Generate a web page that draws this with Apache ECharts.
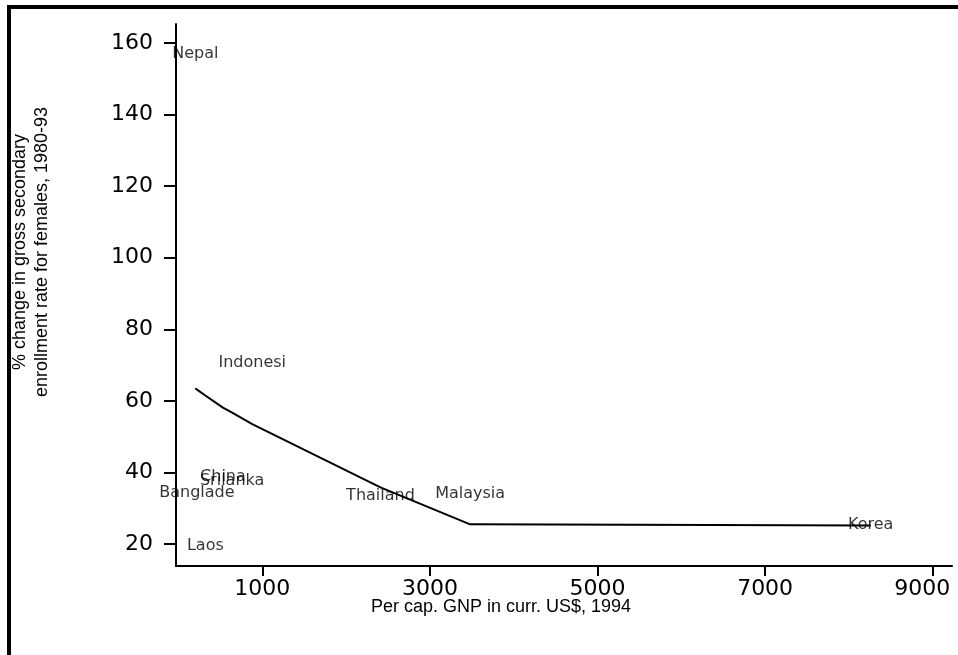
<!DOCTYPE html>
<html>
<head>
<meta charset="utf-8">
<script src="https://cdn.jsdelivr.net/npm/echarts@6/dist/echarts.min.js"></script>
<style>
html,body{margin:0;padding:0;background:#fff;}
#chart{width:958px;height:655px;}
</style>
</head>
<body>
<div id="chart"></div>
<script>
// ---- data ----
const countries = ['Nepal', 'Banglade', 'Laos', 'China', 'Srilanka', 'Indonesi', 'Thailand', 'Malaysia', 'Korea'];
const gnpPerCap = [200, 220, 320, 530, 640, 880, 2410, 3480, 8260];
const enrollChange = [157, 34.4, 19.6, 38.9, 37.7, 70.5, 33.4, 33.9, 25.4];
const smoothedFit = [63.5, 63.2, 61.5, 58.1, 56.7, 53.5, 35.8, 25.5, 25.2];
const xTickValues = [1000, 3000, 5000, 7000, 9000];
const yTickValues = [20, 40, 60, 80, 100, 120, 140, 160];
const xTitle = 'Per cap. GNP in curr. US$, 1994';
const yTitleLines = ['% change in gross secondary', 'enrollment rate for females, 1980-93'];

const labelPoints = countries.map((c, i) => ({ name: c, value: [gnpPerCap[i], enrollChange[i]] }));
const fitPoints = gnpPerCap.map((g, i) => [g, smoothedFit[i]]);
const lastXTick = xTickValues[xTickValues.length - 1];

const chart = echarts.init(document.getElementById('chart'), null, { renderer: 'canvas' });
chart.setOption({
  backgroundColor: '#ffffff',
  animation: false,
  grid: { left: 176, right: 6, top: 24, bottom: 89, containLabel: false, outerBoundsMode: 'none' },
  xAxis: {
    type: 'value',
    min: -30, max: 9230,
    splitLine: { show: false },
    axisLine: { show: true, onZero: false, lineStyle: { color: '#000', width: 2 } },
    axisTick: { show: true, inside: false, length: 10, lineStyle: { color: '#000', width: 2 }, customValues: xTickValues },
    axisLabel: {
      customValues: xTickValues,
      formatter: v => (v === lastXTick ? '{last|' + v + '}' : String(v)),
      color: '#000', fontFamily: 'DejaVu Sans', fontSize: 22, margin: 12,
      rich: { last: { color: '#000', fontFamily: 'DejaVu Sans', fontSize: 22, padding: [0, 21, 0, 0] } }
    },
    name: xTitle,
    nameLocation: 'middle',
    nameGap: 32,
    nameMoveOverlap: false,
    nameTextStyle: { color: '#000', fontFamily: 'Liberation Sans', fontSize: 18, padding: [0, 126, 0, 0] }
  },
  yAxis: {
    type: 'value',
    min: 13.85, max: 165.3,
    splitLine: { show: false },
    axisLine: { show: true, onZero: false, lineStyle: { color: '#000', width: 2 } },
    axisTick: { show: true, inside: false, length: 12, lineStyle: { color: '#000', width: 2 }, customValues: yTickValues },
    axisLabel: { customValues: yTickValues, formatter: v => String(v), color: '#000', fontFamily: 'DejaVu Sans', fontSize: 22, margin: 23 },
    name: yTitleLines.join('\n'),
    nameLocation: 'middle',
    nameRotate: 90,
    nameGap: 123,
    nameMoveOverlap: false,
    nameTextStyle: { color: '#000', fontFamily: 'Liberation Sans', fontSize: 18, lineHeight: 22, align: 'center', padding: [0, 0, 0, 86] }
  },
  graphic: [{
    type: 'rect',
    z: 100,
    silent: true,
    shape: { x: 9, y: 7, width: 2000, height: 2000 },
    style: { fill: 'none', stroke: '#000', lineWidth: 4 }
  }],
  series: [
    {
      type: 'line',
      data: fitPoints,
      symbol: 'none',
      smooth: false,
      lineStyle: { color: '#000', width: 2 },
      z: 2
    },
    {
      type: 'scatter',
      data: labelPoints,
      symbolSize: 0,
      itemStyle: { color: 'transparent' },
      label: {
        show: true,
        position: 'inside',
        formatter: p => p.name,
        color: '#000',
        fontFamily: 'DejaVu Sans',
        fontSize: 16
      },
      z: 3
    }
  ]
});
</script>
</body>
</html>
